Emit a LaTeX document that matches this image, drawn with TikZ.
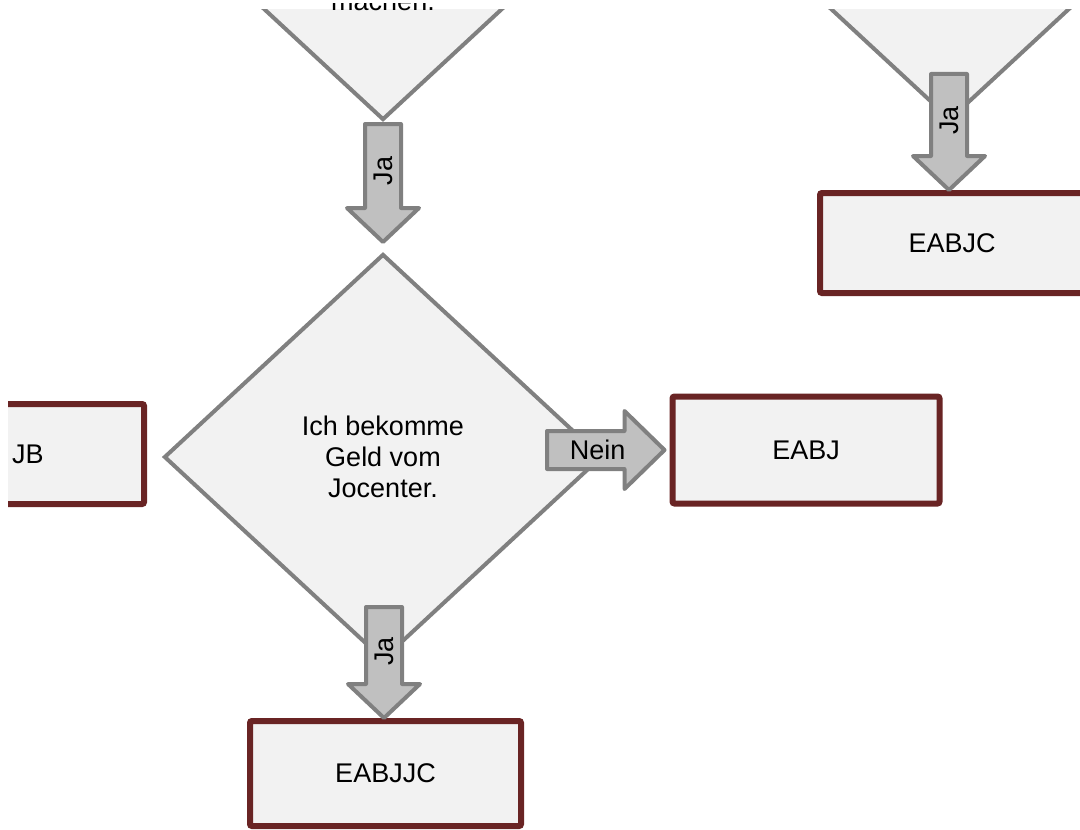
\documentclass[tikz,border=0pt]{standalone}
\usepackage{fontspec}
\setmainfont{Liberation Sans}
\usetikzlibrary{shapes.geometric,calc}
\definecolor{boxfill}{HTML}{F2F2F2}
\definecolor{linegray}{HTML}{808080}
\definecolor{arrowfill}{HTML}{C0C0C0}
\definecolor{boxred}{HTML}{692424}

\begin{document}
\begin{tikzpicture}[x=0.5pt,y=-0.5pt,
    font=\fontsize{13.5}{15.5}\selectfont,
    decision/.style={diamond, draw=linegray, fill=boxfill, line width=2pt,
      minimum width=219pt, minimum height=203pt, inner sep=0pt, align=center},
    result/.style={rectangle, draw=boxred, fill=boxfill, line width=3pt,
      rounded corners=1pt, inner sep=0pt},
    blockarrow/.style={draw=linegray, fill=arrowfill, line width=2pt, line join=round},
    downarrow/.style={to path={let \p1=(\tikztostart), \p2=(\tikztotarget) in
      (\x1-9pt,\y1) -- (\x1-9pt,\y2+17pt) -- (\x1-18pt,\y2+17pt) -- (\x2,\y2)
      -- (\x1+18pt,\y2+17pt) -- (\x1+9pt,\y2+17pt) -- (\x1+9pt,\y1) -- cycle}},
    rightarrow/.style={to path={let \p1=(\tikztostart), \p2=(\tikztotarget) in
      (\x1,\y1+9.5pt) -- (\x2-20pt,\y1+9.5pt) -- (\x2-20pt,\y1+19.5pt) -- (\x2,\y2)
      -- (\x2-20pt,\y1-19.5pt) -- (\x2-20pt,\y1-9.5pt) -- (\x1,\y1-9.5pt) -- cycle}},
    lbl/.style={inner sep=0pt}]
  \useasboundingbox (0,0) rectangle (1080,829);
  \begin{scope}
    \clip (8,10) rectangle (1080,829);
    % decisions
    \node[decision] (dtl) at (383,-83) {};
    \node[decision] (dtr) at (950,-83) {};
    \node[decision] (dmain) at (383,457) {Ich bekomme\\Geld vom\\Jocenter.};
    % results
    \node[result, minimum width=132pt, minimum height=50pt] (bejc) at (952,243) {EABJC};
    \node[result, minimum width=133.5pt, minimum height=53.5pt] (bej) at (806,450) {EABJ};
    \node[result, minimum width=132pt, minimum height=50pt] (bjb) at (12,454) {};
    \node[lbl, anchor=east] (ljb) at (44,454) {JB};
    \node[result, minimum width=135.5pt, minimum height=52.5pt] (bejjc) at (385.5,773.5) {EABJJC};
    % arrows
    \coordinate (a1s) at ($(dtl.south)+(0,2)$);
    \coordinate (a1e) at ($(dmain.north)+(0,-10)$);
    \draw[blockarrow] (a1s) to[downarrow] (a1e);
    \node[lbl, rotate=90] (l1) at ($(a1s)!0.4!(a1e)$) {Ja};
    \coordinate (a2s) at ($(dtr.south)+(-1,-48)$);
    \coordinate (a2e) at (bejc.north -| a2s);
    \draw[blockarrow] (a2s) to[downarrow] (a2e);
    \node[lbl, rotate=90] (l2) at ($(a2s)!0.4!(a2e)$) {Ja};
    \coordinate (a3s) at ($(dmain.south)+(1,-55)$);
    \coordinate (a3e) at (bejjc.north -| a3s);
    \draw[blockarrow] (a3s) to[downarrow] (a3e);
    \node[lbl, rotate=90] (l3) at ($(a3s)!0.4!(a3e)$) {Ja};
    \coordinate (a4s) at ($(dmain.east)+(-57,-7)$);
    \coordinate (a4e) at ($(bej.west |- a4s)+(-5,0)$);
    \draw[blockarrow] (a4s) to[rightarrow] (a4e);
    \node[lbl] (l4) at ($(a4s)!0.43!(a4e)$) {Nein};
  \end{scope}
  \begin{scope}
    \clip (8,4) rectangle (1080,829);
    \node[lbl, anchor=base] (tmach) at (383,11) {machen.};
  \end{scope}
\end{tikzpicture}
\end{document}
